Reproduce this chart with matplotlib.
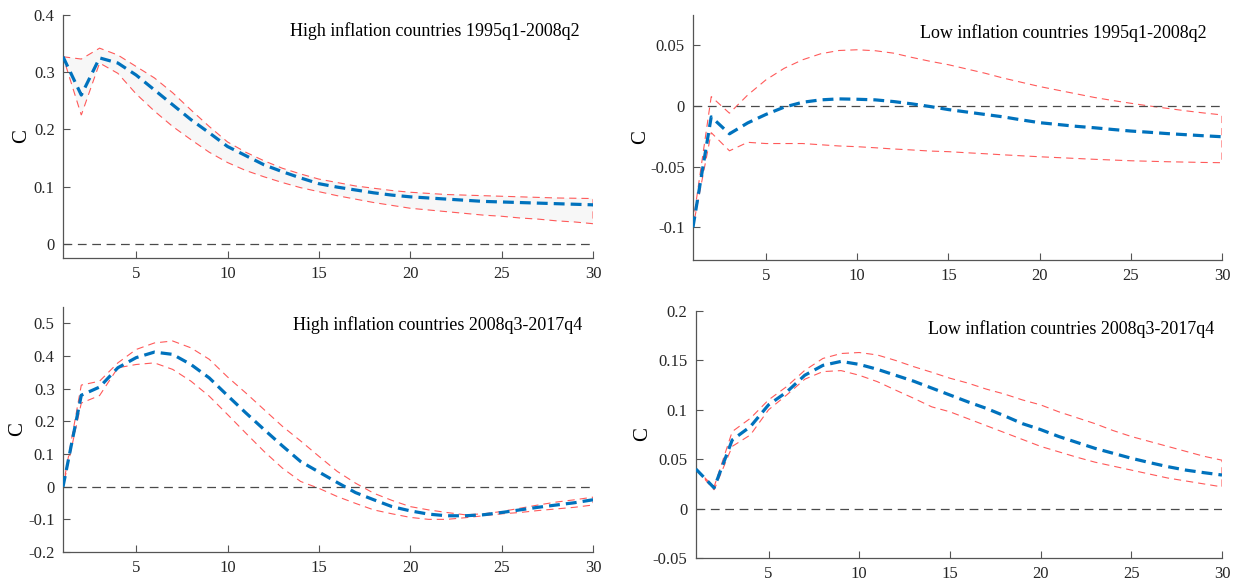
import numpy as np
import matplotlib
matplotlib.use("Agg")
import matplotlib.pyplot as plt

plt.rcParams["font.family"] = ["Liberation Serif", "DejaVu Serif"]
plt.rcParams["axes.unicode_minus"] = False

horizon = np.arange(1, 31)

# High inflation countries, 1995q1-2008q2
hi_pre_mean = [0.327, 0.260, 0.325, 0.316, 0.295, 0.269, 0.243, 0.217, 0.194, 0.170,
               0.154, 0.138, 0.126, 0.115, 0.105, 0.099, 0.094, 0.089, 0.085, 0.082,
               0.080, 0.078, 0.076, 0.074, 0.073, 0.072, 0.071, 0.070, 0.069, 0.068]
hi_pre_upper = [0.327, 0.323, 0.342, 0.330, 0.310, 0.290, 0.264, 0.234, 0.205, 0.178,
                0.160, 0.145, 0.132, 0.122, 0.113, 0.107, 0.101, 0.097, 0.093, 0.090,
                0.088, 0.086, 0.085, 0.084, 0.083, 0.082, 0.081, 0.080, 0.0795, 0.079]
hi_pre_lower = [0.327, 0.225, 0.316, 0.298, 0.262, 0.232, 0.205, 0.182, 0.160, 0.142,
                0.128, 0.117, 0.107, 0.098, 0.091, 0.084, 0.078, 0.072, 0.067, 0.062,
                0.059, 0.056, 0.053, 0.050, 0.048, 0.045, 0.043, 0.040, 0.038, 0.035]

# Low inflation countries, 1995q1-2008q2
lo_pre_mean = [-0.100, -0.009, -0.023, -0.014, -0.007, -0.001, 0.003, 0.005, 0.0058, 0.0055,
               0.005, 0.0036, 0.0017, -0.0005, -0.003, -0.005, -0.007, -0.009, -0.0115, -0.0138,
               -0.0153, -0.0168, -0.018, -0.0194, -0.0207, -0.0217, -0.0228, -0.0237, -0.0246, -0.0254]
lo_pre_upper = [-0.097, 0.0077, -0.006, 0.009, 0.0215, 0.031, 0.038, 0.043, 0.0457, 0.0463,
                0.0455, 0.0435, 0.040, 0.0368, 0.034, 0.0305, 0.027, 0.023, 0.0195, 0.016,
                0.013, 0.010, 0.007, 0.0045, 0.0022, 0.0, -0.002, -0.004, -0.0058, -0.0074]
lo_pre_lower = [-0.100, -0.022, -0.037, -0.030, -0.031, -0.031, -0.031, -0.032, -0.033, -0.0336,
                -0.0345, -0.0355, -0.0363, -0.0372, -0.0377, -0.0386, -0.0394, -0.0403, -0.0411, -0.0419,
                -0.0426, -0.0433, -0.044, -0.0446, -0.0452, -0.0456, -0.046, -0.0463, -0.0466, -0.0468]

# High inflation countries, 2008q3-2017q4
hi_post_mean = [0.0, 0.280, 0.305, 0.364, 0.395, 0.412, 0.405, 0.374, 0.333, 0.279,
                0.226, 0.175, 0.125, 0.077, 0.045, 0.013, -0.018, -0.040, -0.061, -0.074,
                -0.084, -0.089, -0.089, -0.086, -0.079, -0.071, -0.063, -0.056, -0.049, -0.040]
hi_post_upper = [0.0, 0.311, 0.323, 0.379, 0.420, 0.440, 0.446, 0.425, 0.390, 0.336,
                 0.287, 0.236, 0.185, 0.140, 0.093, 0.047, 0.011, -0.020, -0.042, -0.061,
                 -0.071, -0.079, -0.086, -0.083, -0.076, -0.066, -0.056, -0.047, -0.040, -0.032]
hi_post_lower = [0.0, 0.256, 0.279, 0.364, 0.374, 0.379, 0.359, 0.323, 0.277, 0.221,
                 0.164, 0.108, 0.057, 0.016, -0.005, -0.030, -0.051, -0.071, -0.083, -0.094,
                 -0.100, -0.100, -0.095, -0.089, -0.083, -0.079, -0.073, -0.068, -0.063, -0.056]

# Low inflation countries, 2008q3-2017q4
lo_post_mean = [0.040, 0.021, 0.0695, 0.083, 0.105, 0.118, 0.135, 0.145, 0.149, 0.146,
                0.141, 0.135, 0.129, 0.122, 0.115, 0.108, 0.1015, 0.094, 0.086, 0.080,
                0.073, 0.067, 0.061, 0.056, 0.051, 0.0466, 0.0425, 0.039, 0.0364, 0.034]
lo_post_upper = [0.040, 0.022, 0.078, 0.0914, 0.110, 0.1235, 0.140, 0.152, 0.157, 0.158,
                 0.1555, 0.150, 0.1437, 0.138, 0.132, 0.127, 0.121, 0.116, 0.110, 0.105,
                 0.098, 0.092, 0.086, 0.079, 0.073, 0.068, 0.063, 0.058, 0.053, 0.049]
lo_post_lower = [0.040, 0.019, 0.063, 0.0746, 0.100, 0.115, 0.131, 0.1387, 0.1397, 0.135,
                 0.1285, 0.120, 0.1117, 0.103, 0.098, 0.091, 0.084, 0.077, 0.070, 0.063,
                 0.0575, 0.052, 0.047, 0.043, 0.039, 0.035, 0.031, 0.028, 0.025, 0.022]

titles = ["High inflation countries 1995q1-2008q2",
          "Low inflation countries 1995q1-2008q2",
          "High inflation countries 2008q3-2017q4",
          "Low inflation countries 2008q3-2017q4"]

xticks = [5, 10, 15, 20, 25, 30]
yticks_hi_pre = [0, 0.1, 0.2, 0.3, 0.4]
ytick_labels_hi_pre = ["0", "0.1", "0.2", "0.3", "0.4"]
yticks_lo_pre = [-0.1, -0.05, 0, 0.05]
ytick_labels_lo_pre = ["-0.1", "-0.05", "0", "0.05"]
yticks_hi_post = [-0.2, -0.1, 0, 0.1, 0.2, 0.3, 0.4, 0.5]
ytick_labels_hi_post = ["-0.2", "-0.1", "0", "0.1", "0.2", "0.3", "0.4", "0.5"]
yticks_lo_post = [-0.05, 0, 0.05, 0.1, 0.15, 0.2]
ytick_labels_lo_post = ["-0.05", "0", "0.05", "0.1", "0.15", "0.2"]

BLUE = "#0072BD"
RED = "#ff5a5a"
AXIS_GREY = "#555555"


def draw_irf(ax, mean, upper, lower, title, ylim, yticks, ylabels,
             band_face="white", title_xy=(0.97, 0.93), ylabel_x=-0.08):
    x = horizon
    # confidence band as a closed polygon with a dashed red border
    poly_x = np.concatenate([x, x[::-1]])
    poly_y = np.concatenate([np.asarray(upper), np.asarray(lower)[::-1]])
    ax.fill(poly_x, poly_y, facecolor=band_face, edgecolor=RED,
            linestyle=(0, (6.5, 4.5)), linewidth=0.8, zorder=1)
    ax.plot(x, mean, color=BLUE, linewidth=2.3, linestyle=(0, (3.4, 1.9)), zorder=3)
    ax.plot([1, 30], [0, 0], color="#4a4a4a", linewidth=0.9,
            linestyle=(0, (7, 4.5)), zorder=2)

    ax.set_xlim(1, 30)
    ax.set_ylim(*ylim)
    ax.set_xticks(xticks)
    ax.set_yticks(yticks)
    ax.set_yticklabels(ylabels)
    ax.set_ylabel("C", fontsize=15, va="center")
    ax.yaxis.set_label_coords(ylabel_x, 0.5)
    ax.text(title_xy[0], title_xy[1], title, transform=ax.transAxes,
            ha="right", va="center", fontsize=13, color="black")

    for side in ("top", "right"):
        ax.spines[side].set_visible(False)
    for side in ("left", "bottom"):
        ax.spines[side].set_color(AXIS_GREY)
        ax.spines[side].set_linewidth(0.9)
    ax.tick_params(direction="in", length=5, width=0.8, colors=AXIS_GREY,
                   labelcolor="#262626", labelsize=12, pad=6)


fig = plt.figure(figsize=(12.43, 5.82), dpi=100)

ax1 = fig.add_axes([0.0507, 0.5567, 0.4264, 0.4175])
ax2 = fig.add_axes([0.5575, 0.5533, 0.4256, 0.4210])
ax3 = fig.add_axes([0.0507, 0.0515, 0.4264, 0.4210])
ax4 = fig.add_axes([0.5599, 0.0412, 0.4232, 0.4244])

draw_irf(ax1, hi_pre_mean, hi_pre_upper, hi_pre_lower, titles[0],
         (-0.025, 0.4), yticks_hi_pre, ytick_labels_hi_pre,
         band_face="#f7f7f7", title_xy=(0.974, 0.934), ylabel_x=-0.079)
draw_irf(ax2, lo_pre_mean, lo_pre_upper, lo_pre_lower, titles[1],
         (-0.127, 0.075), yticks_lo_pre, ytick_labels_lo_pre,
         title_xy=(0.971, 0.927), ylabel_x=-0.099)
draw_irf(ax3, hi_post_mean, hi_post_upper, hi_post_lower, titles[2],
         (-0.2, 0.55), yticks_hi_post, ytick_labels_hi_post,
         title_xy=(0.98, 0.927), ylabel_x=-0.085)
draw_irf(ax4, lo_post_mean, lo_post_upper, lo_post_lower, titles[3],
         (-0.05, 0.2), yticks_lo_post, ytick_labels_lo_post,
         title_xy=(0.985, 0.927), ylabel_x=-0.101)

fig.savefig("out.png", dpi=100, facecolor="white")
